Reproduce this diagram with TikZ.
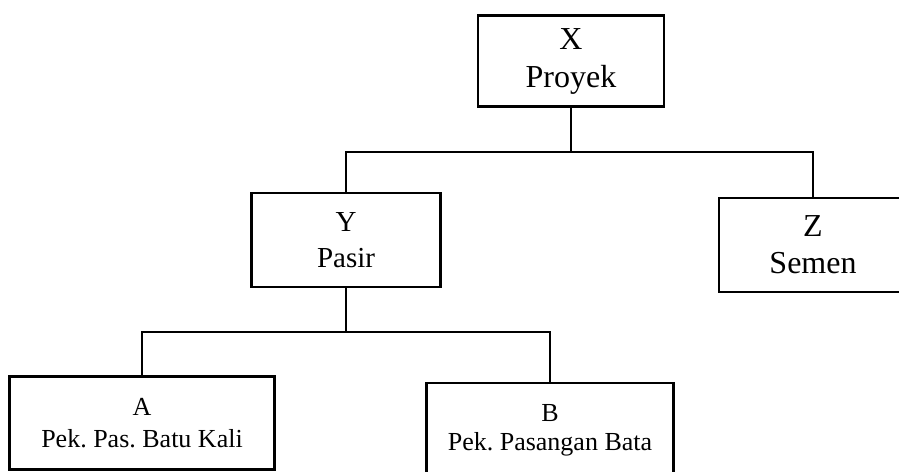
\documentclass[tikz,border=0pt]{standalone}
\usepackage{fontspec}
\setmainfont{Liberation Serif}
\frenchspacing
\begin{document}
\begin{tikzpicture}[x=0.5pt,y=-0.5pt]
\tikzset{
	b/.style={rectangle, draw=black, line width=1.1pt, align=center, inner sep=0pt}
}

\clip (0,0) rectangle (899,471);

% X
\node[b, minimum width=93pt, minimum height=45.5pt, font=\fontsize{16}{19}\selectfont] (x) at(571,61) {X\\Proyek};

% Y, Z
\node[b, minimum width=94.5pt, minimum height=47pt, font=\fontsize{14.5}{18}\selectfont] (y) at(346,240) {Y\\Pasir};
\node[b, minimum width=94pt, minimum height=47pt, font=\fontsize{16}{18.5}\selectfont] (z) at(813,245) {Z\\Semen};

% A, B
\node[b, minimum width=132.5pt, minimum height=46.5pt, font=\fontsize{13}{16}\selectfont] (a) at(142,423) {A\\Pek. Pas. Batu Kali};
\node[b, minimum width=123.5pt, minimum height=47pt, font=\fontsize{13}{14.5}\selectfont] (bb) at(550,430) {B\\Pek. Pasangan Bata};

% garis
\draw[line width=1.1pt] (x.south) -- ++(0,44) coordinate (xbus);
\draw[line width=1.1pt] (y.north) |- (xbus) -| (z.north);
\draw[line width=1.1pt] (y.south) -- ++(0,44) coordinate (ybus);
\draw[line width=1.1pt] (a.north) |- (ybus) -| (bb.north);

\end{tikzpicture}
\end{document}
